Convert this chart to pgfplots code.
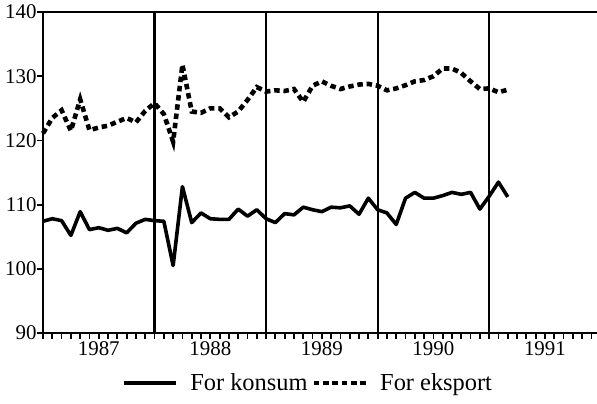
\documentclass[border=0pt]{standalone}
\usepackage{fontspec}
\setmainfont{Liberation Serif}
\usepackage{pgfplots}
\pgfplotsset{compat=1.18}
\usepackage{pgfplotstable}

\pgfplotstableread{
i k e
0 107.4 121.1
1 107.8 123.5
2 107.5 124.7
3 105.2 121.5
4 108.9 126.4
5 106.1 121.6
6 106.4 122.0
7 106.0 122.3
8 106.3 122.9
9 105.6 123.5
10 107.1 122.8
11 107.7 124.6
12 107.5 125.8
13 107.4 124.1
14 100.5 119.8
15 112.8 131.8
16 107.2 124.5
17 108.7 124.3
18 107.8 125.0
19 107.7 125.0
20 107.7 123.6
21 109.3 124.5
22 108.2 126.3
23 109.2 128.3
24 107.8 127.6
25 107.2 127.8
26 108.6 127.7
27 108.4 128.0
28 109.6 126.0
29 109.2 128.5
30 108.9 129.2
31 109.6 128.5
32 109.5 128.0
33 109.8 128.4
34 108.5 128.7
35 111.0 128.8
36 109.2 128.5
37 108.7 127.8
38 106.9 128.1
39 111.0 128.6
40 111.9 129.2
41 111.0 129.4
42 111.0 130.0
43 111.4 131.2
44 111.9 131.2
45 111.6 130.5
46 111.9 129.2
47 109.3 128.0
48 111.3 128.1
49 113.5 127.5
50 111.2 127.9
}\datatable

\begin{document}
\begin{tikzpicture}
\begin{axis}[
  at={(0,0)}, anchor=south west,
  scale only axis,
  width=554bp, height=321bp,
  xmin=0, xmax=59.6,
  ymin=90, ymax=140,
  clip=false,
  axis x line=bottom, axis y line=left,
  axis line style={-, line width=2.4bp, black},
  xtick={0,...,59},
  xticklabels={},
  ytick={90,100,...,140},
  tick align=outside,
  major tick length=6bp,
  every tick/.style={black, line width=1.8bp},
  extra x ticks={6,18,30,42,54},
  extra x tick labels={1987,1988,1989,1990,1991},
  extra x tick style={major tick length=0pt},
  /pgf/number format/assume math mode=true,
  tick label style={font=\fontsize{21}{21}\selectfont},
  yticklabel style={xshift=3bp},
  xticklabel style={yshift=-5bp},
  legend columns=2,
  legend style={at={(axis description cs:0.479,0)}, anchor=center, yshift=-50bp,
    draw=none, fill=none, font=\fontsize{24.5}{24.5}\selectfont,
    /tikz/every odd column/.append style={column sep=10bp},
    /tikz/every even column/.append style={column sep=2bp}},
  legend image code/.code={\draw[#1] (0bp,0bp) -- (52bp,0bp);},
]
\draw[line width=2.2bp] (axis cs:12,90) -- (axis cs:12,140);
\draw[line width=2.2bp] (axis cs:24,90) -- (axis cs:24,140);
\draw[line width=2.2bp] (axis cs:36,90) -- (axis cs:36,140);
\draw[line width=2.2bp] (axis cs:48,90) -- (axis cs:48,140);
\addplot[black, line width=3.6bp, line join=round] table[x=i, y=k] {\datatable};
\addlegendentry{For konsum}
\addplot[black, line width=4.6bp, dash pattern=on 5.5bp off 3.8bp] table[x=i, y=e] {\datatable};
\addlegendentry{For eksport}
\end{axis}
\fill[black] (-1.2bp,319.6bp) rectangle (554bp,322.4bp);
\pgfresetboundingbox
\path (-43bp,-71bp) rectangle (554bp,333bp);
\end{tikzpicture}
\end{document}
